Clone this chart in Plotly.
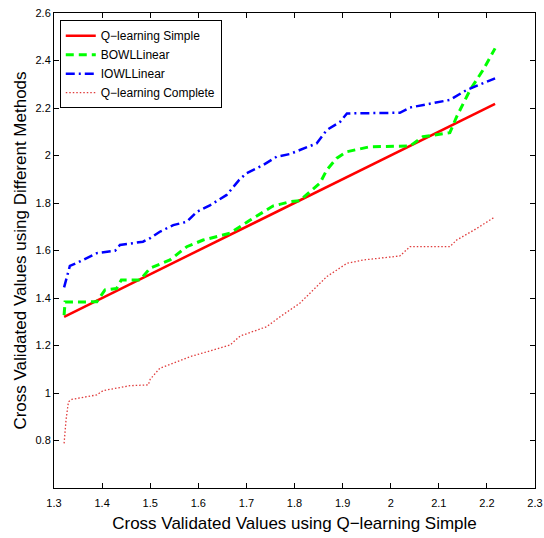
import plotly.graph_objects as go

# Q-learning Simple (identity line)
x_simple = [1.321, 1.5, 1.7, 1.9, 2.1, 2.217]
y_simple = [1.321, 1.5, 1.7, 1.9, 2.1, 2.217]

# BOWLLinear
x_bowl = [1.321, 1.323, 1.389, 1.406, 1.43, 1.44, 1.479, 1.50, 1.541, 1.576, 1.61, 1.666,
          1.708, 1.735, 1.755, 1.79, 1.811, 1.853, 1.867, 1.888, 1.909, 1.957, 2.04, 2.067,
          2.123, 2.137, 2.165, 2.192, 2.217]
y_bowl = [1.328, 1.383, 1.384, 1.434, 1.44, 1.476, 1.476, 1.526, 1.56, 1.616, 1.644, 1.673,
          1.728, 1.762, 1.787, 1.805, 1.81, 1.884, 1.939, 1.989, 2.016, 2.037, 2.04, 2.079,
          2.096, 2.163, 2.276, 2.36, 2.451]

# IOWLLinear
x_iowl = [1.321, 1.333, 1.347, 1.389, 1.427, 1.437, 1.485, 1.50, 1.52, 1.548, 1.576, 1.597,
          1.624, 1.659, 1.685, 1.70, 1.735, 1.763, 1.79, 1.846, 1.867, 1.895, 1.909, 2.019,
          2.04, 2.123, 2.158, 2.217]
y_iowl = [1.445, 1.535, 1.547, 1.589, 1.599, 1.623, 1.637, 1.652, 1.679, 1.707, 1.721, 1.763,
          1.79, 1.834, 1.897, 1.925, 1.96, 1.995, 2.006, 2.051, 2.107, 2.142, 2.177, 2.18,
          2.202, 2.234, 2.276, 2.325]

# Q-learning Complete
x_comp = [1.321, 1.325, 1.33, 1.337, 1.389, 1.402, 1.458, 1.496, 1.50, 1.52, 1.583, 1.617,
          1.666, 1.687, 1.742, 1.77, 1.811, 1.846, 1.867, 1.909, 1.943, 2.019, 2.04, 2.123,
          2.137, 2.179, 2.217]
y_comp = [0.788, 0.886, 0.963, 0.973, 0.992, 1.01, 1.031, 1.034, 1.058, 1.104, 1.153, 1.174,
          1.202, 1.24, 1.279, 1.321, 1.378, 1.448, 1.49, 1.546, 1.56, 1.577, 1.616, 1.616,
          1.644, 1.693, 1.742]

x_ticks = [1.3, 1.4, 1.5, 1.6, 1.7, 1.8, 1.9, 2.0, 2.1, 2.2, 2.3]
x_ticklabels = ["1.3", "1.4", "1.5", "1.6", "1.7", "1.8", "1.9", "2", "2.1", "2.2", "2.3"]
y_ticks = [0.8, 1.0, 1.2, 1.4, 1.6, 1.8, 2.0, 2.2, 2.4, 2.6]
y_ticklabels = ["0.8", "1", "1.2", "1.4", "1.6", "1.8", "2", "2.2", "2.4", "2.6"]

FONT = "Liberation Sans, Arial, sans-serif"

fig = go.Figure()
fig.add_trace(go.Scatter(x=x_simple, y=y_simple, mode="lines", name="Q\u2212learning Simple",
                         line=dict(color="#ff0000", width=2.5)))
fig.add_trace(go.Scatter(x=x_bowl, y=y_bowl, mode="lines", name="BOWLLinear",
                         line=dict(color="#00ff00", width=3, dash="8px,5px")))
fig.add_trace(go.Scatter(x=x_iowl, y=y_iowl, mode="lines", name="IOWLLinear",
                         line=dict(color="#0000ff", width=2.5, dash="9px,4px,2px,4px")))
fig.add_trace(go.Scatter(x=x_comp, y=y_comp, mode="lines", name="Q\u2212learning Complete",
                         line=dict(color="#e03c3c", width=1.3, dash="1.5px,2px")))

axis_common = dict(showgrid=False, zeroline=False, showline=True, linecolor="black",
                   linewidth=1, mirror="ticks", ticks="inside", ticklen=5, tickcolor="black",
                   automargin=False,
                   tickfont=dict(family=FONT, size=11, color="black"))

fig.update_xaxes(range=[1.3, 2.3], tickvals=x_ticks, ticktext=x_ticklabels,
                 ticklabelstandoff=5,
                 title=dict(text="Cross Validated Values using Q\u2212learning Simple",
                            font=dict(family=FONT, size=17, color="black"), standoff=8),
                 **axis_common)
fig.update_yaxes(range=[0.6, 2.6], tickvals=y_ticks, ticktext=y_ticklabels,
                 title=dict(text="Cross Validated Values using Different Methods",
                            font=dict(family=FONT, size=17, color="black"), standoff=4),
                 **axis_common)

fig.update_layout(
    width=544, height=538,
    margin=dict(l=54, r=9, t=13, b=50),
    plot_bgcolor="white", paper_bgcolor="white",
    font=dict(family=FONT, color="black"),
    legend=dict(x=0.012, y=0.985, xanchor="left", yanchor="top",
                bgcolor="white", bordercolor="black", borderwidth=1,
                font=dict(family=FONT, size=12, color="black"),
                tracegroupgap=0, itemwidth=30),
    showlegend=True,
)

fig.write_html("out.html")
